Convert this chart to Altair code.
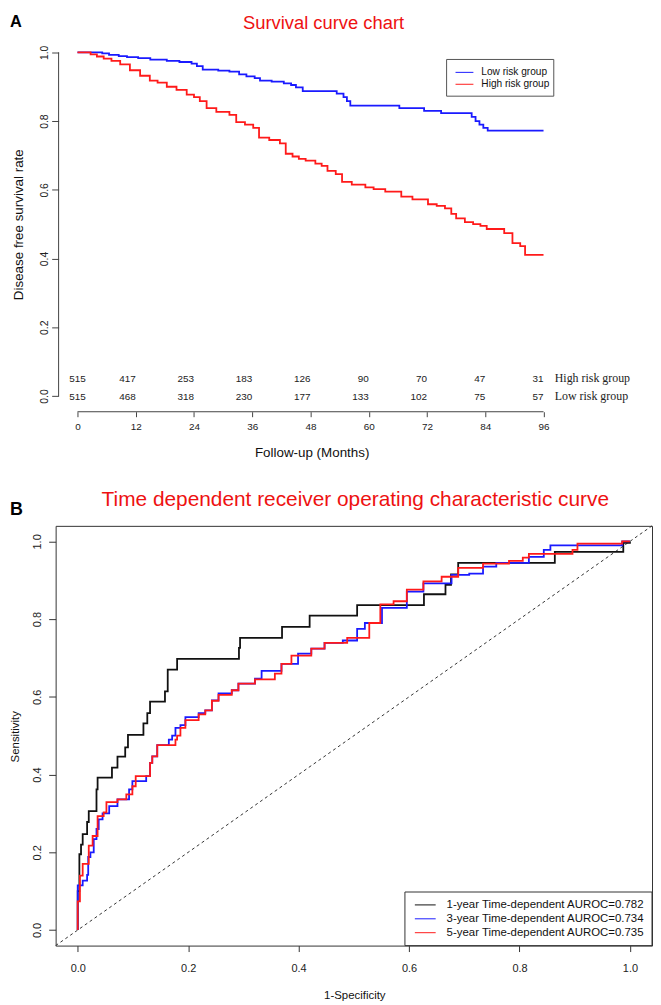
import altair as alt
import pandas as pd

FONT = "Liberation Sans"
SERIF = "Liberation Serif"
AX = "#444444"
RED_T = "#ee1111"

# ---------------- Panel A: Kaplan-Meier data ----------------
km_groups = ["Low risk group", "High risk group"]
km_colors = ["#1a1aff", "#ff1a1a"]

low_month = [0, 5.1, 6.5, 8.5, 10.2,
             12.5, 15, 18.4, 21, 23.5,
             24.6, 25.8, 29, 31.3, 33.3,
             34.8, 36.5, 37.6, 40, 42.5,
             44, 45, 46.4, 53.4, 54.8,
             55.5, 56.2, 66.3, 71.4, 74.9,
             81.2, 82, 82.8, 83.6, 84.5,
             96]
low_surv = [1.0, 0.997, 0.993, 0.989, 0.986,
            0.983, 0.979, 0.975, 0.972, 0.967,
            0.96, 0.95, 0.947, 0.944, 0.936,
            0.93, 0.925, 0.918, 0.915, 0.91,
            0.905, 0.898, 0.887, 0.88, 0.87,
            0.858, 0.845, 0.838, 0.83, 0.823,
            0.812, 0.8, 0.79, 0.78, 0.772,
            0.772]

high_month = [0, 2.7, 4, 5.4, 7,
              8.8, 10.8, 12.9, 14.9, 16.5,
              18.4, 20.4, 22.5, 24, 25.2,
              26.6, 28.6, 31.3, 32.7, 34.5,
              36.2, 37.4, 39.5, 41.7, 42.9,
              44.3, 45.6, 47, 49, 50.3,
              51.5, 53.2, 54.5, 56.5, 59.3,
              61, 63.4, 66.7, 69, 72.2,
              74, 75.7, 77, 78, 79.8,
              81.5, 83, 84.3, 87.9, 89.6,
              91.2, 92.2, 96]
high_surv = [1.0, 0.994, 0.988, 0.982, 0.975,
             0.965, 0.948, 0.932, 0.918, 0.912,
             0.9, 0.891, 0.877, 0.87, 0.858,
             0.838, 0.827, 0.818, 0.797, 0.79,
             0.78, 0.752, 0.745, 0.735, 0.705,
             0.697, 0.69, 0.685, 0.676, 0.67,
             0.655, 0.646, 0.623, 0.615, 0.607,
             0.602, 0.595, 0.58, 0.572, 0.558,
             0.553, 0.546, 0.53, 0.517, 0.506,
             0.5, 0.495, 0.486, 0.474, 0.445,
             0.436, 0.411, 0.411]

risk_months = [0, 12, 24, 36, 48, 60, 72, 84, 96]
risk_high = [515, 417, 253, 183, 126, 90, 70, 47, 31]
risk_low = [515, 468, 318, 230, 177, 133, 102, 75, 57]
y_ticks = [0, 0.2, 0.4, 0.6, 0.8, 1.0]

# ---------------- Panel B: time-dependent ROC data ----------------
roc_labels = ["1-year Time-dependent AUROC=0.782",
              "3-year Time-dependent AUROC=0.734",
              "5-year Time-dependent AUROC=0.735"]
roc_colors = ["#111111", "#1a1aff", "#ff1a1a"]

roc_1y = [(0, 0), (0, 0.1), (0.003, 0.195), (0.006, 0.22), (0.009, 0.247),
          (0.017, 0.278), (0.02, 0.306), (0.034, 0.362), (0.036, 0.392), (0.062, 0.418),
          (0.072, 0.446), (0.086, 0.47), (0.091, 0.502), (0.119, 0.532), (0.126, 0.558),
          (0.131, 0.588), (0.158, 0.614), (0.163, 0.67), (0.18, 0.698), (0.292, 0.726),
          (0.294, 0.752), (0.37, 0.78), (0.42, 0.809), (0.506, 0.836), (0.627, 0.864),
          (0.666, 0.888), (0.676, 0.915), (0.689, 0.945), (0.864, 0.973), (0.988, 0.996),
          (1.0, 1.0)]
roc_3y = [(0, 0), (0, 0.115), (0.009, 0.127), (0.017, 0.142), (0.019, 0.188),
          (0.023, 0.2), (0.029, 0.234), (0.034, 0.26), (0.038, 0.285), (0.045, 0.3),
          (0.057, 0.319), (0.072, 0.336), (0.093, 0.362), (0.099, 0.383), (0.124, 0.396),
          (0.131, 0.43), (0.135, 0.447), (0.144, 0.476), (0.165, 0.49), (0.171, 0.5),
          (0.177, 0.52), (0.186, 0.527), (0.195, 0.548), (0.219, 0.558), (0.231, 0.565),
          (0.243, 0.591), (0.255, 0.609), (0.279, 0.617), (0.291, 0.634), (0.321, 0.647),
          (0.333, 0.667), (0.369, 0.685), (0.399, 0.711), (0.423, 0.724), (0.447, 0.739),
          (0.48, 0.745), (0.506, 0.775), (0.52, 0.79), (0.551, 0.829), (0.596, 0.871),
          (0.626, 0.892), (0.677, 0.914), (0.709, 0.917), (0.734, 0.935), (0.758, 0.945),
          (0.817, 0.96), (0.844, 0.978), (0.856, 0.99), (0.986, 1.0), (1.0, 1.0)]
roc_5y = [(0, 0), (0, 0.074), (0.004, 0.14), (0.009, 0.17), (0.02, 0.217),
          (0.027, 0.242), (0.036, 0.293), (0.047, 0.303), (0.052, 0.329), (0.072, 0.336),
          (0.088, 0.349), (0.099, 0.37), (0.105, 0.396), (0.131, 0.43), (0.135, 0.447),
          (0.144, 0.476), (0.177, 0.49), (0.18, 0.5), (0.186, 0.52), (0.195, 0.54),
          (0.219, 0.555), (0.231, 0.565), (0.243, 0.59), (0.255, 0.605), (0.279, 0.617),
          (0.291, 0.634), (0.321, 0.645), (0.357, 0.66), (0.369, 0.685), (0.387, 0.706),
          (0.423, 0.724), (0.447, 0.739), (0.488, 0.752), (0.528, 0.79), (0.548, 0.838),
          (0.572, 0.846), (0.596, 0.876), (0.626, 0.897), (0.659, 0.909), (0.689, 0.932),
          (0.734, 0.943), (0.781, 0.95), (0.806, 0.958), (0.817, 0.968), (0.896, 0.978),
          (0.905, 0.994), (0.986, 1.0), (1.0, 1.0)]
roc_axis_ticks = [0, 0.2, 0.4, 0.6, 0.8, 1.0]

# ---------------- tables ----------------
km_rows = []
for g, ms, ss in [(km_groups[0], low_month, low_surv), (km_groups[1], high_month, high_surv)]:
    for i, (m, s) in enumerate(zip(ms, ss)):
        km_rows.append({"group": g, "month": m, "surv": s, "idx": i})
km_df = pd.DataFrame(km_rows)
risk_df = pd.DataFrame({"month": risk_months, "high": risk_high, "low": risk_low})

roc_rows = []
for lab, pts in zip(roc_labels, [roc_1y, roc_3y, roc_5y]):
    for i, (f, t) in enumerate(pts):
        roc_rows.append({"series": lab, "fpr": f, "tpr": t, "idx": i})
roc_df = pd.DataFrame(roc_rows)
one = pd.DataFrame({"k": [0]})

# ================= Panel A =================
W1, H1 = 511, 374
xA = alt.Scale(domain=[-4.5, 99.95], nice=False, zero=False)
yA = alt.Scale(domain=[-0.04, 1.04], nice=False, zero=False)
xaxA = alt.Axis(values=risk_months, format="d", domain=False, grid=False, offset=2,
                tickSize=5, tickColor=AX, labelFontSize=10, labelPadding=5,
                labelFlush=False, labelOverlap=False,
                title="Follow-up (Months)", titleFontSize=13.5, titleX=258, titleY=45,
                titleAlign="center", titleBaseline="alphabetic", titleAngle=0)
yaxA = alt.Axis(values=y_ticks, format=".1f", domain=False, grid=False, offset=-3,
                tickSize=7, tickColor=AX, labelAngle=270, labelAlign="center",
                labelBaseline="alphabetic", labelPadding=4, labelFontSize=10.5,
                labelFlush=False, labelOverlap=False,
                title="Disease free survival rate", titleFontSize=13.5, titleAngle=270,
                titleX=-36, titleY=187, titleAlign="center", titleBaseline="alphabetic")

layersA = []
# layout anchors (white, invisible)
layersA.append(alt.Chart(one).mark_rule(color="white", strokeWidth=1).encode(
    x=alt.value(-46.5), x2=alt.value(-45.5), y=alt.value(-25.5), y2=alt.value(-25.5)))
layersA.append(alt.Chart(one).mark_rule(color="white", strokeWidth=1).encode(
    x=alt.value(100), x2=alt.value(101), y=alt.value(436), y2=alt.value(436)))

for g, col in zip(km_groups, km_colors):
    layersA.append(alt.Chart(km_df).transform_filter(alt.datum.group == g)
                   .mark_line(interpolate="step-after", strokeWidth=1.8, color=col)
                   .encode(x=alt.X("month:Q", scale=xA, axis=xaxA),
                           y=alt.Y("surv:Q", scale=yA, axis=yaxA),
                           order="idx:Q"))

# R-style axis lines
layersA.append(alt.Chart(one).mark_rule(color=AX, strokeWidth=1).encode(
    x=alt.datum(0), x2=alt.datum(96), y=alt.value(H1 + 2)))
layersA.append(alt.Chart(one).mark_rule(color=AX, strokeWidth=1).encode(
    x=alt.value(3), y=alt.datum(0), y2=alt.datum(1)))

# numbers at risk
for field, ypix in [("high", 345.6), ("low", 364)]:
    layersA.append(alt.Chart(risk_df).transform_filter("datum.month == 0")
                   .mark_text(align="center", baseline="alphabetic", font=FONT, fontSize=10, color="#222222")
                   .encode(x=alt.X("month:Q", scale=xA, axis=xaxA), y=alt.value(ypix),
                           text=alt.Text(f"{field}:Q", format="d")))
    layersA.append(alt.Chart(risk_df).transform_filter("datum.month > 0")
                   .mark_text(align="right", baseline="alphabetic", font=FONT, fontSize=10, color="#222222")
                   .encode(x=alt.X("month:Q", scale=xA, axis=xaxA), y=alt.value(ypix),
                           text=alt.Text(f"{field}:Q", format="d")))
for lab, ypix in [(km_groups[1], 345.6), (km_groups[0], 364)]:
    layersA.append(alt.Chart(one).mark_text(align="left", baseline="alphabetic", font=SERIF,
                                            fontSize=12, color="#222222")
                   .encode(x=alt.value(503), y=alt.value(ypix), text=alt.value(lab)))

# legend
layersA.append(alt.Chart(one).mark_rect(fill="white", stroke="#555555", strokeWidth=1).encode(
    x=alt.value(394), x2=alt.value(502), y=alt.value(21), y2=alt.value(58)))
for lab, col, ypix in [(km_groups[0], km_colors[0], 34), (km_groups[1], km_colors[1], 46)]:
    layersA.append(alt.Chart(one).mark_rule(color=col, strokeWidth=1).encode(
        x=alt.value(403), x2=alt.value(421), y=alt.value(ypix), y2=alt.value(ypix)))
    layersA.append(alt.Chart(one).mark_text(align="left", baseline="middle", font=FONT,
                                            fontSize=10.2, color="#111111")
                   .encode(x=alt.value(429), y=alt.value(ypix), text=alt.value(lab)))

# titles
layersA.append(alt.Chart(one).mark_text(align="center", baseline="alphabetic", font=FONT,
                                        fontSize=18.5, color=RED_T)
               .encode(x=alt.value(270), y=alt.value(-10), text=alt.value("Survival curve chart")))
layersA.append(alt.Chart(one).mark_text(align="left", baseline="alphabetic", font=FONT,
                                        fontSize=16.5, fontWeight="bold", color="#000000")
               .encode(x=alt.value(-46), y=alt.value(-12), text=alt.value("A")))

panelA = alt.layer(*layersA).properties(width=W1, height=H1)

# ================= Panel B =================
W2, H2 = 601, 423
sB = alt.Scale(domain=[-0.04, 1.04], nice=False, zero=False)
xaxB = alt.Axis(values=roc_axis_ticks, format=".1f", domain=False, grid=False,
                tickSize=6, tickColor="#333333", labelFontSize=11, labelPadding=11,
                labelFlush=False, labelOverlap=False,
                title="1-Specificity", titleFontSize=11.5, titleX=301, titleY=53,
                titleAlign="center", titleBaseline="alphabetic", titleAngle=0)
yaxB = alt.Axis(values=roc_axis_ticks, format=".1f", domain=False, grid=False,
                tickSize=7, tickColor="#333333", labelAngle=270, labelAlign="center",
                labelBaseline="alphabetic", labelPadding=8.5, labelFontSize=11,
                labelFlush=False, labelOverlap=False,
                title="Sensitivity", titleFontSize=11.5, titleAngle=270,
                titleX=-37, titleY=212, titleAlign="center", titleBaseline="alphabetic")

layersB = []
layersB.append(alt.Chart(one).mark_rule(color="white", strokeWidth=1).encode(
    x=alt.value(-46.5), x2=alt.value(-45.5), y=alt.value(-44), y2=alt.value(-44)))

layersB.append(alt.Chart(one).mark_rule(color="#333333", strokeWidth=1, strokeDash=[3, 3]).encode(
    x=alt.datum(-0.04), y=alt.datum(-0.04), x2=alt.datum(1.04), y2=alt.datum(1.04)))

for lab, col in zip(roc_labels, roc_colors):
    layersB.append(alt.Chart(roc_df).transform_filter(alt.datum.series == lab)
                   .mark_line(interpolate="step-after", strokeWidth=1.8, color=col)
                   .encode(x=alt.X("fpr:Q", scale=sB, axis=xaxB),
                           y=alt.Y("tpr:Q", scale=sB, axis=yaxB),
                           order="idx:Q"))

# legend
layersB.append(alt.Chart(one).mark_rect(fill="white", stroke="#333333", strokeWidth=1).encode(
    x=alt.value(352), x2=alt.value(601), y=alt.value(369), y2=alt.value(423)))
for lab, col, ypix in zip(roc_labels, roc_colors, [382, 396, 410]):
    layersB.append(alt.Chart(one).mark_rule(color=col, strokeWidth=1).encode(
        x=alt.value(362), x2=alt.value(383), y=alt.value(ypix), y2=alt.value(ypix)))
    layersB.append(alt.Chart(one).mark_text(align="left", baseline="middle", font=FONT,
                                            fontSize=11.5, color="#111111")
                   .encode(x=alt.value(394), y=alt.value(ypix), text=alt.value(lab)))

layersB.append(alt.Chart(one).mark_text(align="center", baseline="alphabetic", font=FONT,
                                        fontSize=21, color=RED_T)
               .encode(x=alt.value(302), y=alt.value(-20),
                       text=alt.value("Time dependent receiver operating characteristic curve")))
layersB.append(alt.Chart(one).mark_text(align="left", baseline="alphabetic", font=FONT,
                                        fontSize=18, fontWeight="bold", color="#000000")
               .encode(x=alt.value(-46), y=alt.value(-11), text=alt.value("B")))

panelB = alt.layer(*layersB).properties(
    width=W2, height=H2, view=alt.ViewBackground(stroke="#333333", strokeWidth=1))

chart = (alt.vconcat(panelA, panelB, spacing=9)
         .properties(padding=0, background="white")
         .configure_view(stroke="transparent")
         .configure_axis(labelFont=FONT, titleFont=FONT, labelColor="#222222",
                         titleColor="#111111", titleFontWeight="normal"))

chart.save("out.html", embed_options={"renderer": "svg", "actions": False})
